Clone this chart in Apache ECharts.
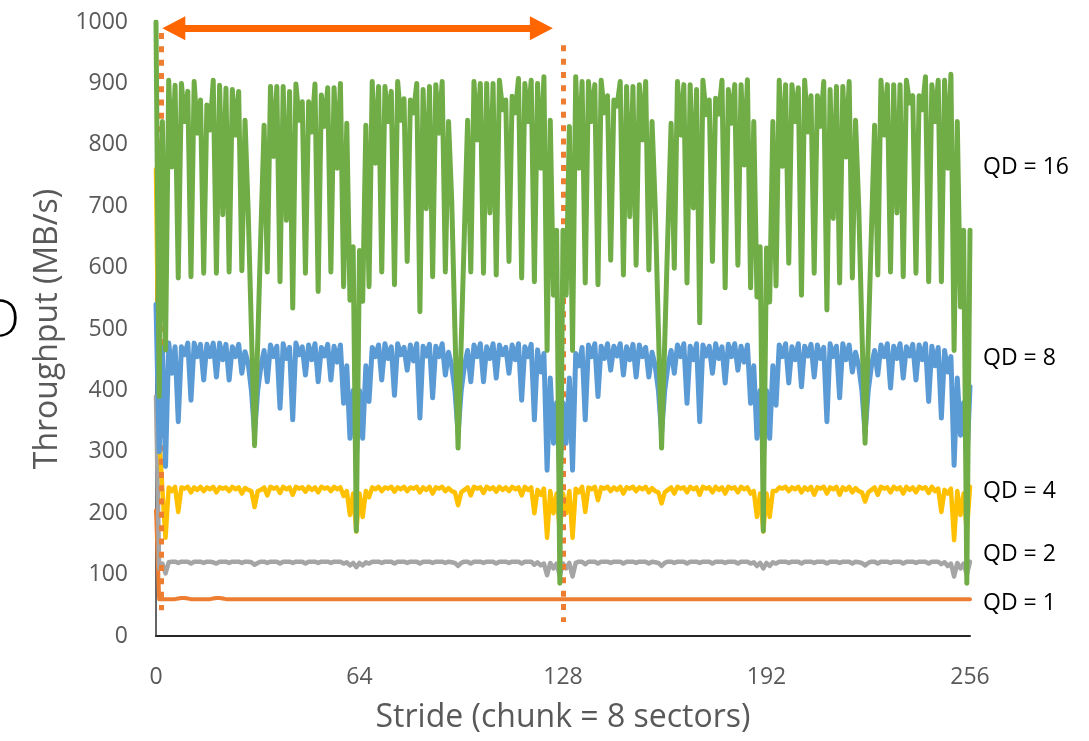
<!DOCTYPE html>
<html>
<head>
<meta charset="utf-8">
<script src="https://cdn.jsdelivr.net/npm/echarts@6/dist/echarts.min.js"></script>
<style>html,body{margin:0;padding:0;background:#fff;}#c{width:1089px;height:741px;}</style>
</head>
<body>
<div id="c"></div>
<script>
// x categories: stride index 0..256
const strides = [];
for (let i = 0; i <= 256; i++) strides.push(i);

const xTicks = [0, 64, 128, 192, 256];
const yTicks = [0, 100, 200, 300, 400, 500, 600, 700, 800, 900, 1000];
const seriesNames = ['QD = 1', 'QD = 2', 'QD = 4', 'QD = 8', 'QD = 16'];

const qd1 = [205,60,60,60,60,60,60,61,62,62,61,60,60,60,60,60,60,60,61,62,62,61,60,60,60,60,60,60,60,60,60,60,
60,60,60,60,60,60,60,60,60,60,60,60,60,60,60,60,60,60,60,60,60,60,60,60,60,60,60,60,60,60,60,60,
60,60,60,60,60,60,60,60,60,60,60,60,60,60,60,60,60,60,60,60,60,60,60,60,60,60,60,60,60,60,60,60,
60,60,60,60,60,60,60,60,60,60,60,60,60,60,60,60,60,60,60,60,60,60,60,60,60,60,60,60,60,60,60,60,
60,60,60,60,60,60,60,60,60,60,60,60,60,60,60,60,60,60,60,60,60,60,60,60,60,60,60,60,60,60,60,60,
60,60,60,60,60,60,60,60,60,60,60,60,60,60,60,60,60,60,60,60,60,60,60,60,60,60,60,60,60,60,60,60,
60,60,60,60,60,60,60,60,60,60,60,60,60,60,60,60,60,60,60,60,60,60,60,60,60,60,60,60,60,60,60,60,
60,60,60,60,60,60,60,60,60,60,60,60,60,60,60,60,60,60,60,60,60,60,60,60,60,60,60,60,60,60,60,60,
60];

const qd2 = [390,110,118,102,120,121,121,119,121,121,121,118,121,121,121,119,121,121,120,118,121,121,121,119,121,121,121,119,121,121,120,116,
119,121,121,119,121,121,121,118,121,121,121,119,121,121,121,118,121,121,121,119,121,121,121,119,121,121,121,118,120,115,119,112,
119,115,120,118,121,121,121,119,121,121,121,118,121,121,121,119,121,121,121,118,121,121,121,119,121,121,121,119,121,120,119,114,
119,121,121,118,121,121,121,119,121,121,121,118,121,121,121,119,121,121,121,118,121,121,121,116,120,115,118,99,119,110,118,98,
118,110,119,97,119,121,121,117,121,121,121,118,121,121,121,119,121,121,121,118,121,121,121,119,121,121,121,118,121,120,119,114,
119,121,121,119,121,121,121,118,121,121,121,119,121,121,121,118,121,121,121,119,121,121,121,118,121,121,121,118,120,114,119,110,
119,114,120,118,121,121,121,119,121,121,121,118,121,121,121,119,121,121,121,118,121,121,121,119,121,121,121,118,121,120,119,115,
119,121,121,118,121,121,121,119,121,121,121,118,121,121,121,119,121,121,121,118,121,121,121,117,120,114,118,97,119,110,118,100,
121];

const qd4 = [760,330,238,160,242,236,243,202,242,240,243,234,242,238,243,236,242,239,243,234,242,240,242,236,243,239,242,232,241,238,236,210,
236,238,242,229,243,240,242,233,243,239,242,230,243,240,242,235,243,238,242,234,243,240,242,236,243,239,242,228,236,197,232,170,
232,194,236,226,242,239,243,236,242,240,243,235,242,239,243,236,242,240,243,234,242,238,243,232,242,240,243,236,241,236,234,213,
234,238,242,229,243,240,242,233,243,239,242,235,243,238,242,236,243,239,242,229,243,238,242,200,238,230,240,160,236,200,232,170,
232,200,236,160,240,234,243,202,242,239,243,221,242,240,243,236,242,238,243,232,242,240,243,236,242,239,243,234,241,236,234,216,
234,238,242,232,243,240,242,234,243,239,242,230,243,240,242,234,243,238,242,232,243,240,242,234,243,239,242,232,236,194,232,170,
232,194,236,236,242,240,243,236,242,239,243,234,242,238,243,230,242,240,243,232,242,239,243,230,242,238,243,234,241,236,234,219,
234,238,242,230,243,240,242,234,243,239,242,232,243,238,242,234,243,240,242,233,243,236,240,202,238,232,240,156,236,197,232,170,
243];

const qd8 = [540,300,470,276,477,428,471,349,471,458,477,384,477,455,475,417,475,455,477,422,477,450,475,417,471,455,475,428,463,444,400,330,
400,440,465,414,474,455,472,371,476,452,470,352,477,458,471,425,474,450,476,414,470,456,475,417,472,446,474,379,440,322,400,290,
400,322,440,382,470,455,474,417,476,452,471,392,476,458,470,433,474,448,476,355,472,456,475,388,472,455,476,425,462,440,400,330,
400,440,465,414,474,455,476,414,471,452,476,420,474,458,470,428,474,450,476,384,471,455,475,352,466,430,460,270,420,314,380,260,
380,314,420,270,460,440,470,352,474,455,476,390,472,452,476,433,472,456,476,425,471,450,475,422,474,455,470,422,462,440,400,330,
400,440,465,428,474,455,476,379,472,450,476,349,474,456,472,428,476,452,471,412,475,455,476,433,472,446,474,379,440,322,400,290,
400,322,440,376,474,455,476,412,471,450,476,406,472,456,475,422,474,452,470,349,476,455,472,388,476,450,474,430,462,440,400,330,
400,440,465,425,474,455,476,404,472,452,476,420,471,456,475,417,474,450,476,382,472,440,470,355,465,430,455,278,420,327,380,280,
406];

const qd16 = [1000,390,838,466,905,764,897,583,900,838,887,585,903,819,873,591,865,824,905,591,897,686,892,593,890,816,887,595,840,690,500,310,
480,660,832,593,895,781,895,577,895,677,887,534,899,840,870,591,870,821,899,561,881,830,893,593,893,762,900,569,835,547,634,171,
628,545,832,569,903,770,895,593,895,838,887,572,903,840,875,610,873,852,900,528,890,696,895,585,898,819,903,593,838,710,500,306,
480,660,840,593,903,808,900,591,900,689,900,588,905,857,873,610,879,852,908,583,900,838,905,577,900,762,911,465,840,555,661,86,
661,555,830,465,911,762,903,575,903,838,898,572,905,852,880,612,873,863,903,588,895,683,895,604,898,808,903,596,838,700,500,306,
480,660,835,599,903,816,898,575,898,697,890,510,905,849,873,610,876,850,905,567,890,835,898,604,898,767,906,567,838,552,634,171,
632,544,838,570,905,765,898,607,898,838,893,555,905,821,880,591,880,830,903,531,890,680,895,575,895,780,903,583,840,700,500,314,
480,660,832,588,905,816,898,593,898,689,898,585,905,868,880,591,880,857,911,577,898,838,905,577,905,762,915,465,838,536,661,86,
661];

// annotation anchors in data units
const dotLines = [[[1.8, 982], [1.8, 42]], [[128.1, 962], [128.1, 23]]];
const arrowSpan = [[5.6, 990], [121.2, 990]];

const colors = ['#ED7D31', '#A5A5A5', '#FFC000', '#5B9BD5', '#70AD47'];
const widths = [4, 4.5, 4.5, 5, 5];
const allData = [qd1, qd2, qd4, qd8, qd16];

const chart = echarts.init(document.getElementById('c'), null, {renderer: 'canvas'});

const series = allData.map((vals, k) => ({
  name: seriesNames[k],
  type: 'line',
  data: vals.map((v, i) => [strides[i], v]),
  showSymbol: false,
  symbol: 'none',
  smooth: false,
  z: 2 + k,
  lineStyle: {color: colors[k], width: widths[k], join: 'round', cap: 'round'},
  silent: true
}));

series.push({
  type: 'line',
  data: [],
  z: 20,
  silent: true,
  markLine: {
    silent: true,
    symbol: 'none',
    label: {show: false},
    lineStyle: {color: '#ED7D31', width: 5, type: [6, 7.3], cap: 'butt'},
    data: dotLines.map(p => [{coord: p[0]}, {coord: p[1]}])
  }
});
series.push({
  type: 'line',
  data: [],
  z: 21,
  silent: true,
  markLine: {
    silent: true,
    symbol: ['triangle', 'triangle'],
    symbolSize: [24, 23],
    label: {show: false},
    lineStyle: {color: '#FF6600', width: 7, type: 'solid'},
    data: [[{coord: arrowSpan[0]}, {coord: arrowSpan[1]}]]
  }
});

const labelFont = '"Open Sans", sans-serif';
const rightLabels = [
  {text: 'QD = 16', y: 166},
  {text: 'QD = 8', y: 357},
  {text: 'QD = 4', y: 490},
  {text: 'QD = 2', y: 553},
  {text: 'QD = 1', y: 602}
];

chart.setOption({
  animation: false,
  backgroundColor: '#ffffff',
  grid: {left: 156, right: 119, top: 22, bottom: 105, containLabel: false},
  xAxis: {
    type: 'value',
    min: xTicks[0],
    max: xTicks[xTicks.length - 1],
    interval: 64,
    name: 'Stride (chunk = 8 sectors)',
    nameLocation: 'middle',
    nameGap: 66,
    nameTextStyle: {fontFamily: labelFont, fontSize: 32, color: '#595959'},
    axisLine: {show: true, lineStyle: {color: '#262626', width: 2}},
    axisTick: {show: false},
    splitLine: {show: false},
    axisLabel: {fontFamily: labelFont, fontSize: 23, color: '#595959', margin: 30}
  },
  yAxis: {
    type: 'value',
    min: yTicks[0],
    max: yTicks[yTicks.length - 1],
    interval: 100,
    name: 'Throughput (MB/s)',
    nameLocation: 'middle',
    nameGap: 92,
    nameTextStyle: {fontFamily: labelFont, fontSize: 32, color: '#595959'},
    axisLine: {show: true, lineStyle: {color: '#333333', width: 1.5}},
    axisTick: {show: false},
    splitLine: {show: false},
    axisLabel: {fontFamily: labelFont, fontSize: 23, color: '#595959', margin: 28, formatter: v => String(v)}
  },
  graphic: rightLabels.map(l => ({
    type: 'text',
    left: 983,
    top: l.y - 10,
    silent: true,
    style: {text: l.text, fontFamily: labelFont, fontSize: 23, fill: '#000000'}
  })).concat([{
    type: 'text',
    left: -18,
    top: 295,
    silent: true,
    style: {text: 'D', fontFamily: labelFont, fontSize: 54, fontWeight: 300, fill: '#000000'}
  }]),
  series: series
});
</script>
</body>
</html>
